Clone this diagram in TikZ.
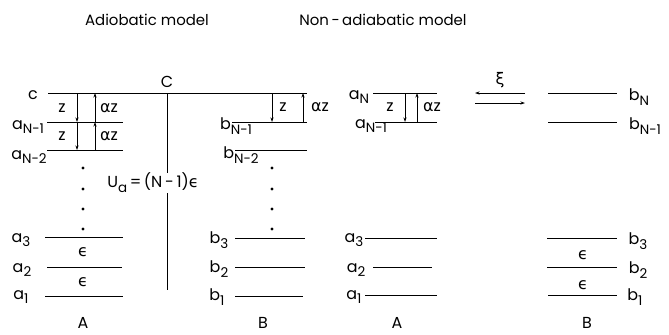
\documentclass[tikz,border=0pt]{standalone}
\usepackage{fontspec}
\setmainfont{Poppins}
\newfontfamily\grk{DejaVu Sans}
\usetikzlibrary{arrows.meta}

\tikzset{
  lvl/.style={line width=1bp},
  lab/.style={font=\fontsize{16}{16}\selectfont, inner sep=0pt},
  ttl/.style={font=\fontsize{15}{15}\selectfont, inner sep=0pt},
  biglab/.style={font=\fontsize{16}{16}\selectfont, inner sep=0pt},
  tick/.style={-{Stealth[length=4.5bp,width=3bp]}, line width=0.8bp},
}
\newcommand{\lv}[2]{#1\raisebox{-0.55ex}{\fontsize{13.5}{13.5}\selectfont #2}}
\newcommand{\eps}{{\grk ϵ}}
\newcommand{\alz}{{\grk α}z}

\begin{document}
\begin{tikzpicture}[x=1bp, y=-1bp]
\useasboundingbox (0,0) rectangle (669,334);

\node[ttl] (tad) at (147,20) {Adiobatic model};
\node[ttl] (tna) at (383,20) {Non\,-\,adiabatic model};

% adiabatic model, levels
\draw[lvl] (48,93) coordinate (c) -- (307,93) coordinate (cE);
\draw[lvl] (47,122) coordinate (aN1) -- (123,122);
\draw[lvl] (47,150) coordinate (aN2) -- (123,150);
\draw[lvl] (45,237) coordinate (a3) -- (123,237);
\draw[lvl] (47,267) coordinate (a2) -- (122,267);
\draw[lvl] (45,296) coordinate (a1) -- (123,296);

\draw[lvl] (232,122) coordinate (bN1) -- (307,122);
\draw[lvl] (235,150) coordinate (bN2) -- (307,150);
\draw[lvl] (235,238) coordinate (b3) -- (305,238);
\draw[lvl] (235,267) coordinate (b2) -- (305,267);
\draw[lvl] (235,296) coordinate (b1) -- (303,296);

\node[lab] (lc) at (33,95) {c};
\node[lab] (laN1) at (28,127) {\lv{a}{N-1}};
\node[lab] (laN2) at (29,157) {\lv{a}{N-2}};
\node[lab] (la3) at (21,240) {\lv{a}{3}};
\node[lab] (la2) at (22,270) {\lv{a}{2}};
\node[lab] (la1) at (21,297) {\lv{a}{1}};

\node[lab] (lbN1) at (236,126) {\lv{b}{N-1}};
\node[lab] (lbN2) at (241,155) {\lv{b}{N-2}};
\node[lab] (lb3) at (219,240) {\lv{b}{3}};
\node[lab] (lb2) at (219,269) {\lv{b}{2}};
\node[lab] (lb1) at (217,297) {\lv{b}{1}};

% C and the barrier
\node[lab] (lC) at (167,82) {C};
\node[lab] (ua) at (153,183) {\lv{U}{a}\,=\,(N\,-\,1)\eps};
\coordinate (cx) at (167,0);
\coordinate (cbot) at (167,290);
\draw[lvl] (c -| cx) -- (ua.north -| cx);
\draw[lvl] (ua.south -| cx) -- (cbot);

% transfer steps
\coordinate (zx) at (77,0);
\coordinate (azx) at (95,0);
\draw[tick] (c -| zx) -- (aN1 -| zx);
\draw[tick] (aN1 -| zx) -- (aN2 -| zx);
\draw[tick] (aN1 -| azx) -- (c -| azx);
\draw[tick] (aN2 -| azx) -- (aN1 -| azx);
\node[lab] (z1) at (62,108) {z};
\node[lab] (z2) at (62,136) {z};
\node[lab] (az1) at (109,108) {\alz};
\node[lab] (az2) at (109,136) {\alz};

\coordinate (zbx) at (272,0);
\coordinate (azbx) at (303,0);
\draw[tick] (c -| zbx) -- (bN1 -| zbx);
\draw[tick] (bN1 -| azbx) -- (c -| azbx);
\node[lab] (z3) at (283,107) {z};
\node[lab] (az3) at (320,107) {\alz};

\foreach \y in {168,189,209,229} {
  \fill (83,\y) circle (1.6);
  \fill (272,\y) circle (1.6);
}
\node[lab] (e1) at (83,252) {\eps};
\node[lab] (e2) at (83,282) {\eps};

\node[biglab] (lA) at (83,323) {A};
\node[biglab] (lB) at (263,323) {B};

% non-adiabatic model
\draw[lvl] (373,93) coordinate (naN) -- (437,93);
\draw[lvl] (375,122) coordinate (naN1) -- (437,122);
\draw[lvl] (365,238) coordinate (na3) -- (437,238);
\draw[lvl] (373,267) coordinate (na2) -- (432,267);
\draw[lvl] (365,295) coordinate (na1) -- (437,295);

\draw[lvl] (548,93) coordinate (nbN) -- (617,93);
\draw[lvl] (548,122) coordinate (nbN1) -- (617,122);
\draw[lvl] (547,238) coordinate (nb3) -- (617,238);
\draw[lvl] (547,267) coordinate (nb2) -- (617,267);
\draw[lvl] (548,295) coordinate (nb1) -- (617,295);

\node[lab] (lnaN) at (359,97) {\lv{a}{N}};
\node[lab] (lnaN1) at (371,126) {\lv{a}{N-1}};
\node[lab] (lna3) at (354,240) {\lv{a}{3}};
\node[lab] (lna2) at (356,270) {\lv{a}{2}};
\node[lab] (lna1) at (354,297) {\lv{a}{1}};

\node[lab] (lnbN) at (639,97) {\lv{b}{N}};
\node[lab] (lnbN1) at (645,126) {\lv{b}{N-1}};
\node[lab] (lnb3) at (638,241) {\lv{b}{3}};
\node[lab] (lnb2) at (638,270) {\lv{b}{2}};
\node[lab] (lnb1) at (635,297) {\lv{b}{1}};

\coordinate (nzx) at (405,0);
\coordinate (nazx) at (417,0);
\draw[tick] (naN -| nzx) -- (naN1 -| nzx);
\draw[tick] (naN1 -| nazx) -- (naN -| nazx);
\node[lab] (z4) at (390,107) {z};
\node[lab] (az4) at (432,107) {\alz};

% exchange between A and B
\coordinate (xl1) at (475,93);
\coordinate (xr1) at (525,93);
\coordinate (xl2) at (475,103);
\coordinate (xr2) at (525,103);
\draw[tick] (xr1) -- (xl1);
\draw[tick] (xl2) -- (xr2);
\node[biglab] (xi) at (500,80) {\grk ξ};

\node[lab] (e3) at (583,255) {\eps};
\node[lab] (e4) at (583,285) {\eps};

\node[biglab] (nlA) at (397,323) {A};
\node[biglab] (nlB) at (587,323) {B};
\end{tikzpicture}
\end{document}
